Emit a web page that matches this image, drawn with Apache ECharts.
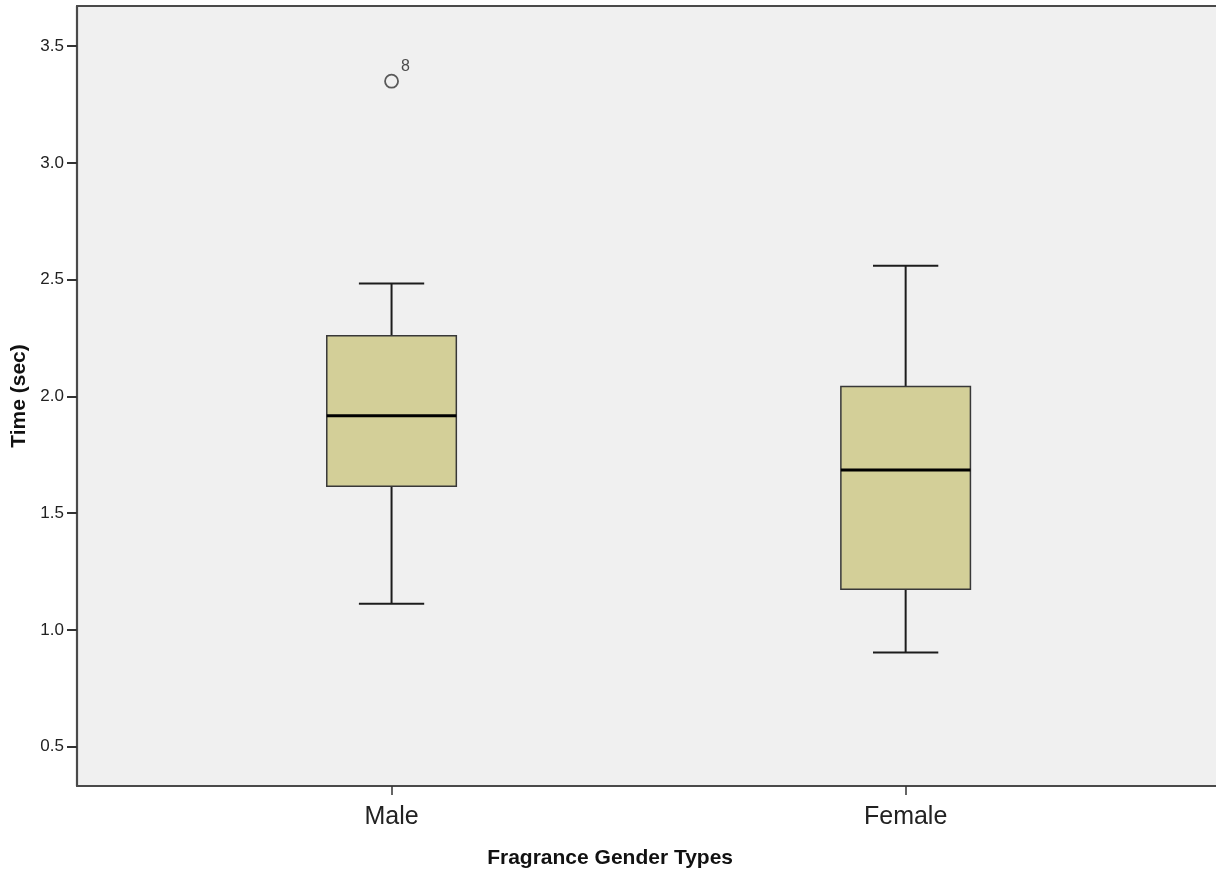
<!DOCTYPE html>
<html>
<head>
<meta charset="utf-8">
<title>Time by Fragrance Gender Types</title>
<script src="https://cdn.jsdelivr.net/npm/echarts@6/dist/echarts.min.js"></script>
<style>
  html, body { margin: 0; padding: 0; background: #ffffff; }
  #chart { width: 1216px; height: 879px; }
</style>
</head>
<body>
<div id="chart"></div>
<script>
// ---- data ----
const categories   = ['Male', 'Female'];
const lowWhisker   = [1.112, 0.903];
const q1Values     = [1.615, 1.174];
const medianValues = [1.917, 1.684];
const q3Values     = [2.260, 2.042];
const highWhisker  = [2.483, 2.559];
const outlierCats  = ['Male'];
const outlierVals  = [3.350];
const outlierIds   = ['8'];
const yTickValues  = [0.5, 1.0, 1.5, 2.0, 2.5, 3.0, 3.5];
const yMin = 0.331;
const yMax = 3.672;

const boxData = categories.map((c, i) =>
  [i, lowWhisker[i], q1Values[i], medianValues[i], q3Values[i], highWhisker[i]]);
const outlierData = outlierCats.map((c, i) => ({
  value: [categories.indexOf(c), outlierVals[i]],
  name: outlierIds[i]
}));

const FONT = "'Liberation Sans', Arial, sans-serif";
const FRAME = { color: '#4a4a4a', width: 2.2 };
const chart = echarts.init(document.getElementById('chart'), null, { renderer: 'canvas' });

chart.setOption({
  animation: false,
  backgroundColor: '#ffffff',
  grid: [
    { left: 77, top: 6, right: 0, bottom: 93, show: true,
      backgroundColor: '#f0f0f0', borderWidth: 0 },
    { left: 134.5, top: 6, right: 53.3, bottom: 93, show: false }
  ],
  xAxis: [
    { gridIndex: 0, type: 'value', min: 0, max: 1, position: 'bottom',
      axisLine: { show: true, lineStyle: FRAME }, axisTick: { show: false },
      axisLabel: { show: false }, splitLine: { show: false } },
    { gridIndex: 0, type: 'value', min: 0, max: 1, position: 'top',
      axisLine: { show: true, lineStyle: FRAME }, axisTick: { show: false },
      axisLabel: { show: false }, splitLine: { show: false } },
    { gridIndex: 1, type: 'category', data: categories,
      axisLine: { show: false },
      axisTick: { show: true, alignWithLabel: true, length: 9,
                  lineStyle: { color: '#333', width: 1.5 } },
      axisLabel: { fontFamily: FONT, fontSize: 25, color: '#222', margin: 19 },
      name: 'Fragrance Gender Types', nameLocation: 'middle', nameGap: 62,
      nameTextStyle: { fontFamily: FONT, fontSize: 21, fontWeight: 'bold', color: '#111',
                       padding: [0, 77, 0, 0] }
    }
  ],
  yAxis: [
    { gridIndex: 0, type: 'value', min: yMin, max: yMax,
      axisLine: { show: true, lineStyle: FRAME },
      splitLine: { show: false },
      axisTick: { show: true, length: 10, customValues: yTickValues,
                  lineStyle: { color: '#333', width: 2 } },
      axisLabel: { customValues: yTickValues, fontFamily: FONT, fontSize: 17, color: '#222',
                   margin: 13, padding: [3, 0, 0, 0], formatter: v => Number(v).toFixed(1) },
      name: 'Time (sec)', nameLocation: 'middle', nameGap: 44, nameRotate: 90,
      nameTextStyle: { fontFamily: FONT, fontSize: 21, fontWeight: 'bold', color: '#111' }
    },
    { gridIndex: 1, type: 'value', min: yMin, max: yMax, show: false }
  ],
  series: [
    {
      type: 'custom',
      xAxisIndex: 2, yAxisIndex: 1,
      data: boxData,
      encode: { x: 0, y: [1, 2, 3, 4, 5] },
      renderItem: function (params, api) {
        const idx = api.value(0);
        const band = api.size([1, 0])[0];
        const boxW = band * 0.252;
        const capW = band * 0.127;
        const pLow = api.coord([idx, api.value(1)]);
        const pQ1 = api.coord([idx, api.value(2)]);
        const pMed = api.coord([idx, api.value(3)]);
        const pQ3 = api.coord([idx, api.value(4)]);
        const pHigh = api.coord([idx, api.value(5)]);
        const cx = pLow[0];
        const ws = { stroke: '#1c1c1c', lineWidth: 2 };
        return {
          type: 'group',
          children: [
            { type: 'line', shape: { x1: cx, y1: pLow[1], x2: cx, y2: pQ1[1] }, style: ws },
            { type: 'line', shape: { x1: cx, y1: pQ3[1], x2: cx, y2: pHigh[1] }, style: ws },
            { type: 'line', shape: { x1: cx - capW / 2, y1: pLow[1], x2: cx + capW / 2, y2: pLow[1] }, style: ws },
            { type: 'line', shape: { x1: cx - capW / 2, y1: pHigh[1], x2: cx + capW / 2, y2: pHigh[1] }, style: ws },
            { type: 'rect',
              shape: { x: cx - boxW / 2, y: pQ3[1], width: boxW, height: pQ1[1] - pQ3[1] },
              style: { fill: '#d3cf98', stroke: '#383838', lineWidth: 1.5 } },
            { type: 'line', shape: { x1: cx - boxW / 2, y1: pMed[1], x2: cx + boxW / 2, y2: pMed[1] },
              style: { stroke: '#000', lineWidth: 3 } }
          ]
        };
      }
    },
    {
      type: 'scatter',
      xAxisIndex: 2, yAxisIndex: 1,
      data: outlierData,
      symbol: 'circle',
      symbolSize: 13,
      itemStyle: { color: 'rgba(0,0,0,0)', borderColor: '#333', borderWidth: 1.8 },
      label: { show: true, position: 'right', distance: 2, offset: [0, -15],
               formatter: p => p.name, fontFamily: FONT, fontSize: 16, color: '#222' }
    }
  ]
});
</script>
</body>
</html>
